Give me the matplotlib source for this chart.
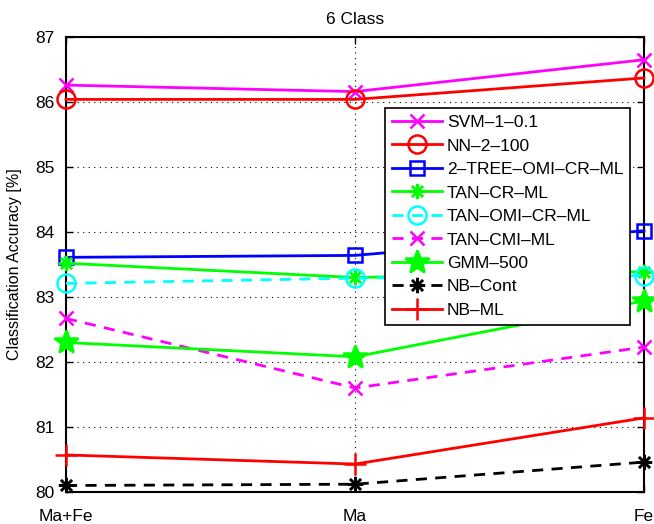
import matplotlib
matplotlib.use('Agg')
import matplotlib.pyplot as plt

# Data
categories = ['Ma+Fe', 'Ma', 'Fe']
svm = [86.26, 86.16, 86.65]
nn = [86.04, 86.04, 86.37]
tree = [83.61, 83.64, 84.02]
tan_cr = [83.52, 83.30, 83.39]
tan_omi = [83.21, 83.29, 83.33]
tan_cmi = [82.67, 81.60, 82.23]
gmm = [82.30, 82.08, 82.94]
nb_cont = [80.10, 80.12, 80.46]
nb_ml = [80.57, 80.43, 81.14]

# label, values, colour, linestyle, marker, marker size, filled
series = [
    ('SVM\u20131\u20130.1', svm, '#ff00ff', '-', 'x', 10, False),
    ('NN\u20132\u2013100', nn, '#ff0000', '-', 'o', 13, False),
    ('2\u2013TREE\u2013OMI\u2013CR\u2013ML', tree, '#0000ff', '-', 's', 10, False),
    ('TAN\u2013CR\u2013ML', tan_cr, '#00ff00', '-', (8, 2, 0), 11, False),
    ('TAN\u2013OMI\u2013CR\u2013ML', tan_omi, '#00ffff', '--', 'o', 13, False),
    ('TAN\u2013CMI\u2013ML', tan_cmi, '#ff00ff', '--', 'x', 10, False),
    ('GMM\u2013500', gmm, '#00ff00', '-', '*', 18, True),
    ('NB\u2013Cont', nb_cont, '#000000', '--', (8, 2, 0), 11, False),
    ('NB\u2013ML', nb_ml, '#ff0000', '-', '+', 16, False),
]

plt.rcParams['font.family'] = ['Liberation Sans', 'DejaVu Sans']

fig = plt.figure(figsize=(6.54, 5.24), dpi=100)
ax = fig.add_axes([66 / 654, 1 - 492 / 524, (644 - 66) / 654, (492 - 37) / 524])

x = list(range(len(categories)))
for name, vals, color, ls, marker, ms, filled in series:
    ax.plot(x, vals, color=color, linestyle=ls, linewidth=2, marker=marker,
            markersize=ms, markerfacecolor=color if filled else 'none',
            markeredgecolor=color, markeredgewidth=1.8, label=name,
            clip_on=False, zorder=3,
            dashes=(4, 3) if ls == '--' else (None, None))

ax.set_xlim(0, 2)
ax.set_ylim(80, 87)
ax.set_xticks(x)
ax.set_xticklabels(categories)
ax.set_yticks(range(80, 88))
ax.tick_params(direction='in', labelsize=12.5, length=5, width=1, top=True, right=True)
ax.tick_params(axis='x', pad=12)
ax.tick_params(axis='y', pad=8)
ax.grid(True, color='black', linestyle=(0, (1, 4)), linewidth=0.8)
for s in ax.spines.values():
    s.set_linewidth(1.5)

ax.set_title('6 Class', fontsize=12.5, pad=9)
ax.set_ylabel('Classification Accuracy [%]', fontsize=11.5, labelpad=10)

leg = ax.legend(loc='upper left', bbox_to_anchor=(0.552, 0.844), fontsize=12.5,
                frameon=True, fancybox=False, edgecolor='black', framealpha=1,
                handlelength=2.9, borderpad=0.4, labelspacing=0.48, handletextpad=0.25,
                borderaxespad=0)
leg.get_frame().set_linewidth(1.2)
leg.set_zorder(5)

fig.savefig('out.png', dpi=100)
